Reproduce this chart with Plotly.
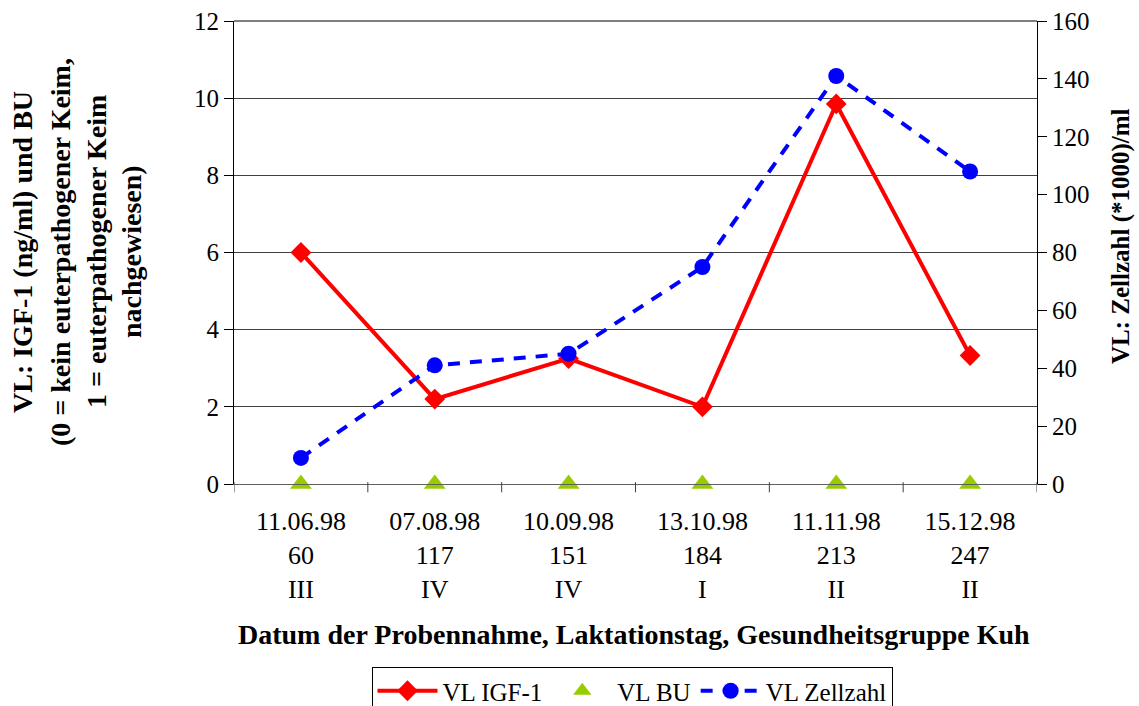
import plotly.graph_objects as go

categories = ["11.06.98<br>60<br>III", "07.08.98<br>117<br>IV", "10.09.98<br>151<br>IV",
              "13.10.98<br>184<br>I", "11.11.98<br>213<br>II", "15.12.98<br>247<br>II"]
igf1 = [6.0, 2.2, 3.25, 2.0, 9.85, 3.33]
bu = [0, 0, 0, 0, 0, 0]
zellzahl = [9, 41, 45, 75, 141, 108]

FONT = "Liberation Serif, Times New Roman, serif"
x = list(range(len(categories)))

L, R, T, B = 234, 102, 21, 222
W, H = 1139, 706
PW, PH = W - L - R, H - T - B

def px_x(p):
    return (p - L) / PW

def px_y(p):
    return (H - B - p) / PH

fig = go.Figure()
fig.add_trace(go.Scatter(x=x, y=igf1, name="VL IGF-1", mode="lines+markers",
                         line=dict(color="#ff0000", width=4),
                         marker=dict(symbol="diamond", size=16, color="#ff0000")))
fig.add_trace(go.Scatter(x=x, y=bu, name="VL BU", mode="markers",
                         marker=dict(symbol="triangle-up", size=19, color="#99cc00"),
                         cliponaxis=False))
fig.add_trace(go.Scatter(x=x, y=zellzahl, name="VL Zellzahl", mode="lines+markers", yaxis="y2",
                         line=dict(color="#0000ff", width=4, dash="12px,10px"),
                         marker=dict(symbol="circle", size=16, color="#0000ff")))

fig.update_layout(
    width=W, height=H,
    margin=dict(l=L, r=R, t=T, b=B, autoexpand=False),
    paper_bgcolor="white", plot_bgcolor="white",
    font=dict(family=FONT, size=25, color="black"),
    showlegend=True,
    legend=dict(orientation="h", x=px_x(632), xanchor="center", y=px_y(667), yanchor="top",
                bordercolor="black", borderwidth=1, font=dict(size=25),
                itemwidth=60, tracegroupgap=0),
    xaxis=dict(range=[-0.5, 5.5], tickvals=x, ticktext=categories,
               showgrid=False, zeroline=False, showline=True, linecolor="#606060", linewidth=1,
               ticks="", tickfont=dict(size=26), ticklabelstandoff=14,
               mirror=False),
    yaxis=dict(range=[0, 12], dtick=2, showgrid=True, gridcolor="#404040", gridwidth=1,
               zeroline=False, showline=True, linecolor="black", linewidth=1,
               ticks="outside", ticklen=9, tickcolor="black", tickfont=dict(size=25)),
    yaxis2=dict(range=[0, 160], dtick=20, overlaying="y", side="right", showgrid=False,
                zeroline=False, showline=True, linecolor="black", linewidth=1,
                ticks="outside", ticklen=9, tickcolor="black", tickfont=dict(size=25)),
)

# x tick marks between categories
for b in [i + 0.5 for i in range(-1, 6)]:
    fig.add_shape(type="line", xref="x", yref="paper", x0=b, x1=b, y0=0.004, y1=-0.018,
                  line=dict(color="#404040", width=1))
# top border
fig.add_shape(type="line", xref="paper", yref="paper", x0=0, x1=1, y0=1, y1=1,
              line=dict(color="black", width=1))

# left axis title as separate rotated lines
left_lines = ["VL: IGF-1 (ng/ml) und BU", "(0 = kein euterpathogener Keim,",
              "1 = euterpathogener Keim", "nachgewiesen)"]
xs = [22, 60, 96, 131]
for t, p in zip(left_lines, xs):
    fig.add_annotation(text="<b>" + t + "</b>", xref="paper", yref="paper",
                       x=px_x(p), y=px_y(252), xanchor="center", yanchor="middle",
                       textangle=-90, showarrow=False, font=dict(size=28))

# right axis title
fig.add_annotation(text="<b>VL: Zellzahl (*1000)/ml</b>", xref="paper", yref="paper",
                   x=px_x(1121), y=px_y(236), xanchor="center", yanchor="middle",
                   textangle=-90, showarrow=False, font=dict(size=25))

# x axis title
fig.add_annotation(text="<b>Datum der Probennahme, Laktationstag, Gesundheitsgruppe Kuh</b>",
                   xref="paper", yref="paper", x=px_x(634), y=px_y(634),
                   xanchor="center", yanchor="middle", showarrow=False, font=dict(size=28))

fig.write_html("out.html")
